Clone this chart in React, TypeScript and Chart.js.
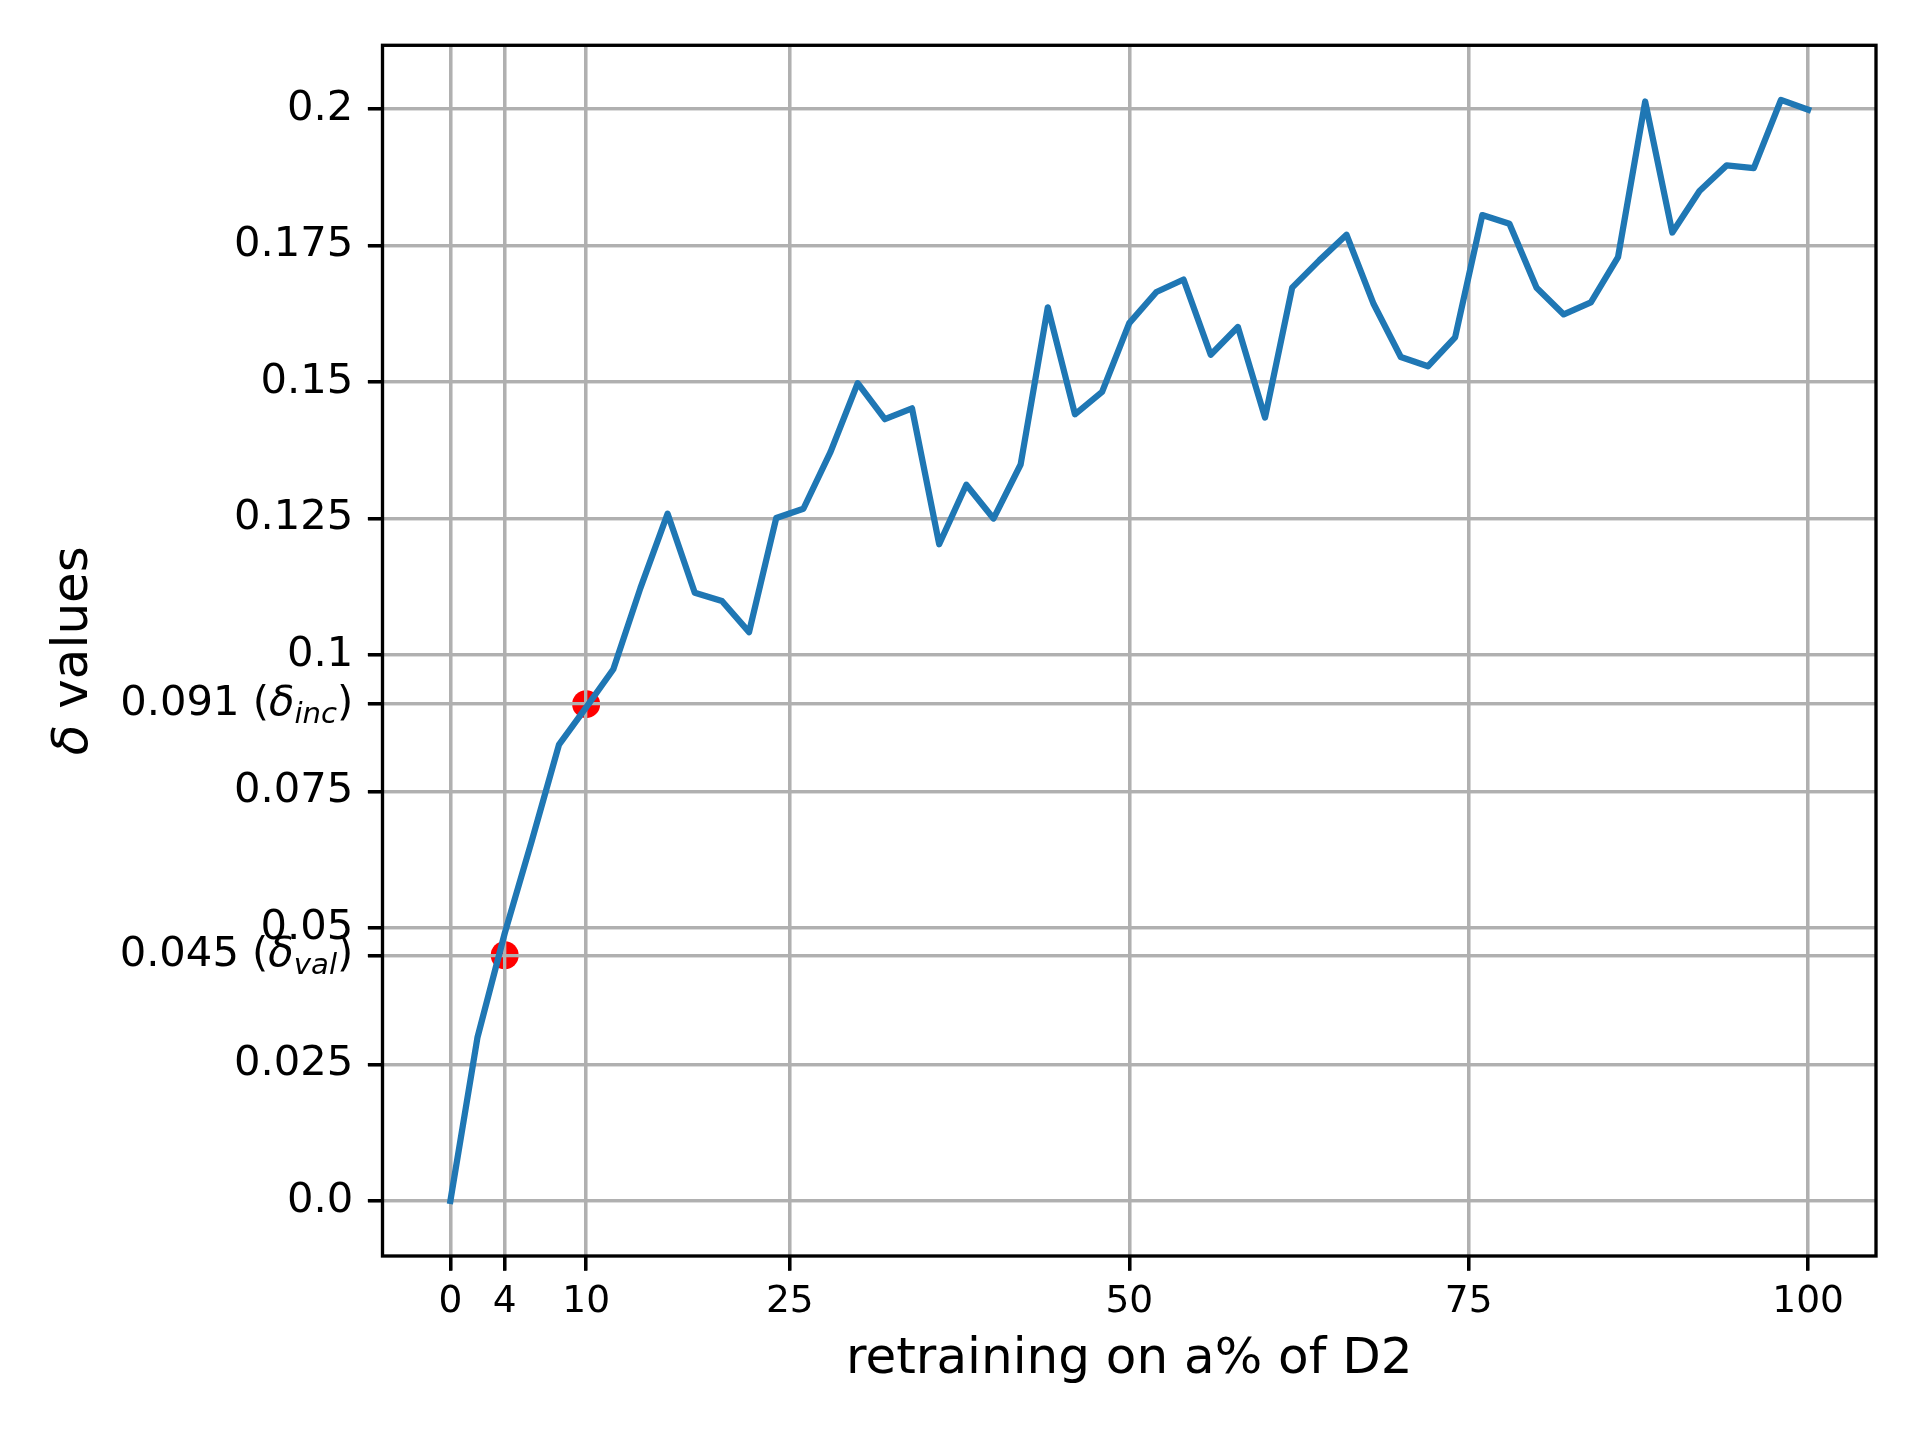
import React, { useEffect, useRef } from 'react';
import { Chart, registerables } from 'chart.js';

Chart.register(...registerables);

// ---------- data ----------
const X_VALUES = [
  0, 2, 4, 6, 8, 10, 12, 14, 16, 18, 20, 22, 24, 26, 28, 30, 32, 34, 36, 38, 40,
  42, 44, 46, 48, 50, 52, 54, 56, 58, 60, 62, 64, 66, 68, 70, 72, 74, 76, 78, 80,
  82, 84, 86, 88, 90, 92, 94, 96, 98, 100,
];
const DELTA_VALUES = [
  0.0, 0.030, 0.049, 0.066, 0.0836, 0.0904, 0.0974, 0.1123, 0.1259, 0.1114, 0.1099,
  0.1042, 0.1251, 0.1268, 0.1372, 0.1498, 0.1432, 0.1452, 0.1203, 0.1312, 0.125,
  0.1349, 0.1637, 0.1441, 0.1482, 0.1608, 0.1665, 0.1688, 0.155, 0.1601, 0.1435,
  0.1673, 0.1723, 0.177, 0.1643, 0.1546, 0.1529, 0.1582, 0.1806, 0.179, 0.1673,
  0.1624, 0.1646, 0.1729, 0.2014, 0.1774, 0.185, 0.1897, 0.1892, 0.2017, 0.1999,
];
const X_TICKS = [0, 4, 10, 25, 50, 75, 100];
const X_TICK_LABELS = ['0', '4', '10', '25', '50', '75', '100'];
const Y_TICKS = [0, 0.025, 0.045, 0.05, 0.075, 0.091, 0.1, 0.125, 0.15, 0.175, 0.2];
const Y_TICK_LABELS = ['0.0', '0.025', '', '0.05', '0.075', '', '0.1', '0.125', '0.15', '0.175', '0.2'];
const MARK_X = [4, 10];
const MARK_Y = [0.045, 0.091];
const MARK_NUM = ['0.045', '0.091'];
const MARK_SUB = ['val', 'inc'];
const X_TITLE = 'retraining on a% of D2';
const Y_TITLE_SYMBOL = 'δ';
const Y_TITLE_REST = ' values';

// ---------- style ----------
const PT = 300 / 72;
const FONT = "'DejaVu Sans', sans-serif";
const TICK_LEN = 3.5 * PT;
const TICK_PAD = 3.5 * PT;
const LINE_W = 0.8 * PT;
const GRID_COLOR = '#b0b0b0';

const decorPlugin = {
  id: 'decor',
  afterDatasetDraw(chart: any, args: any) {
    if (args.index === 1) {
      // matplotlib draws the grid above the scatter markers but below the line
      chart.scales.x.drawGrid(chart.chartArea);
      chart.scales.y.drawGrid(chart.chartArea);
    }
  },
  afterDraw(chart: any) {
    const { ctx, chartArea: ca, scales } = chart;
    const y = scales.y;
    ctx.save();
    ctx.strokeStyle = '#000';
    ctx.lineWidth = LINE_W;
    ctx.lineJoin = 'miter';
    ctx.strokeRect(ca.left, ca.top, ca.right - ca.left, ca.bottom - ca.top);

    const big = 10 * PT;
    const small = 7 * PT;
    ctx.fillStyle = '#000';
    ctx.textAlign = 'left';
    ctx.font = `${big}px ${FONT}`;
    ctx.textBaseline = 'middle';
    const baseOff = ctx.measureText('H').actualBoundingBoxDescent;
    ctx.textBaseline = 'alphabetic';
    MARK_Y.forEach((v, i) => {
      const py = y.getPixelForValue(v);
      const xr = y.right - TICK_LEN - TICK_PAD;
      const baseline = py + baseOff;
      const parts: any[] = [
        { t: MARK_NUM[i] + ' (', font: `${big}px ${FONT}`, dy: 0 },
        { t: 'δ', font: `italic ${big}px ${FONT}`, dy: 0 },
        { t: MARK_SUB[i], font: `italic ${small}px ${FONT}`, dy: 0.2 * big },
        { t: ')', font: `${big}px ${FONT}`, dy: 0 },
      ];
      let total = 0;
      parts.forEach((p) => {
        ctx.font = p.font;
        p.w = ctx.measureText(p.t).width;
        total += p.w;
      });
      let x = xr - total;
      parts.forEach((p) => {
        ctx.font = p.font;
        ctx.fillText(p.t, x, baseline + p.dy);
        x += p.w;
      });
    });

    // y-axis title with an italic delta (mathtext style), rotated
    const tsize = 12 * PT;
    const cy = (ca.top + ca.bottom) / 2;
    const cx = 74;
    ctx.translate(cx, cy);
    ctx.rotate(-Math.PI / 2);
    ctx.textBaseline = 'middle';
    ctx.font = `italic ${tsize}px ${FONT}`;
    const w1 = ctx.measureText(Y_TITLE_SYMBOL).width;
    ctx.font = `${tsize}px ${FONT}`;
    const w2 = ctx.measureText(Y_TITLE_REST).width;
    let tx = -(w1 + w2) / 2;
    ctx.font = `italic ${tsize}px ${FONT}`;
    ctx.fillText(Y_TITLE_SYMBOL, tx, 0);
    tx += w1;
    ctx.font = `${tsize}px ${FONT}`;
    ctx.fillText(Y_TITLE_REST, tx, 0);
    ctx.restore();
  },
};

export default function App() {
  const ref = useRef<HTMLCanvasElement>(null);

  useEffect(() => {
    document.body.style.margin = '0';
    const canvas = ref.current!;
    const lineData = X_VALUES.map((x, i) => ({ x, y: DELTA_VALUES[i] }));
    const markData = MARK_X.map((x, i) => ({ x, y: MARK_Y[i] }));

    const chart = new Chart(canvas, {
      type: 'line',
      data: {
        datasets: [
          {
            label: 'delta',
            data: lineData,
            borderColor: '#1f77b4',
            borderWidth: 1.5 * PT,
            pointRadius: 0,
            pointHoverRadius: 0,
            tension: 0,
            fill: false,
            borderJoinStyle: 'round',
            borderCapStyle: 'square',
            order: 1,
          },
          {
            label: 'marks',
            data: markData,
            showLine: false,
            pointRadius: 14,
            pointHoverRadius: 14,
            pointBackgroundColor: '#ff0000',
            pointBorderWidth: 0,
            borderColor: '#ff0000',
            backgroundColor: '#ff0000',
            order: 2,
          },
        ],
      },
      options: {
        responsive: false,
        devicePixelRatio: 1,
        animation: false,
        events: [],
        layout: { padding: { top: 45.3, right: 44, bottom: 0, left: 0 } },
        plugins: {
          legend: { display: false },
          tooltip: { enabled: false },
        },
        scales: {
          x: {
            type: 'linear',
            min: -5,
            max: 105,
            afterBuildTicks: (scale: any) => {
              scale.ticks = X_TICKS.map((value) => ({ value }));
            },
            afterFit: (scale: any) => {
              scale.height = 184;
            },
            grid: {
              color: GRID_COLOR,
              lineWidth: LINE_W,
              tickColor: '#000',
              tickLength: TICK_LEN,
              tickWidth: LINE_W,
              drawTicks: true,
            },
            border: { display: false },
            ticks: {
              autoSkip: false,
              maxRotation: 0,
              padding: 9,
              color: '#000',
              font: { family: FONT, size: 9 * PT },
              callback: (_v: any, index: number) => X_TICK_LABELS[index],
            },
            title: {
              display: true,
              text: X_TITLE,
              color: '#000',
              font: { family: FONT, size: 12 * PT },
              padding: { top: 0, bottom: 50 },
            },
          },
          y: {
            type: 'linear',
            min: -0.0101,
            max: 0.2117,
            afterBuildTicks: (scale: any) => {
              scale.ticks = Y_TICKS.map((value) => ({ value }));
            },
            afterFit: (scale: any) => {
              scale.width = 382.5;
            },
            grid: {
              color: GRID_COLOR,
              lineWidth: LINE_W,
              tickColor: '#000',
              tickLength: TICK_LEN,
              tickWidth: LINE_W,
              drawTicks: true,
            },
            border: { display: false },
            ticks: {
              autoSkip: false,
              padding: TICK_PAD,
              color: '#000',
              font: { family: FONT, size: 10 * PT },
              callback: (_v: any, index: number) => Y_TICK_LABELS[index],
            },
            title: { display: false },
          },
        },
      } as any,
      plugins: [decorPlugin as any],
    });

    return () => chart.destroy();
  }, []);

  return (
    <div style={{ width: 1920, height: 1440 }}>
      <canvas ref={ref} width={1920} height={1440} style={{ display: 'block', width: 1920, height: 1440 }} />
    </div>
  );
}
